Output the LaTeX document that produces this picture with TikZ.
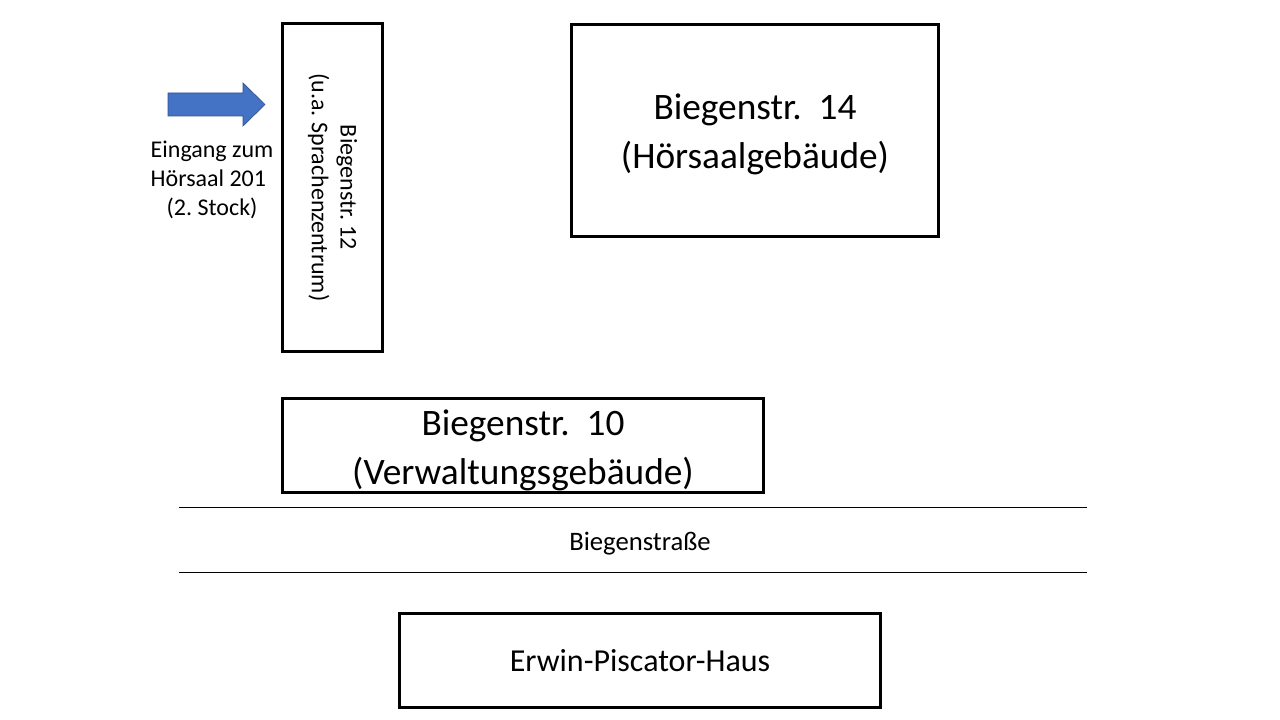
\documentclass[tikz,border=0pt]{standalone}
\usepackage{fontspec}
\setmainfont{Carlito}
\frenchspacing

\tikzset{
  house/.style={draw, line width=2.25pt, inner sep=0pt, align=center},
  bigtext/.style={font=\fontsize{28}{36.75}\selectfont},
  smalltext/.style={font=\fontsize{18}{21.5}\selectfont},
  road/.style={line width=0.75pt}
}

\begin{document}
\begin{tikzpicture}[x=0.75pt, y=-0.75pt]
\useasboundingbox (0,0) rectangle (1280,720);
% Gebaeude
\node [house, minimum width=100*0.75pt, minimum height=328*0.75pt] (b12) at (332.5,187.5) {};
\node [smalltext, rotate=-90, align=center] (b12text) at (b12.center) {Biegenstr. 12\\(u.a. Sprachenzentrum)};
\node [house, minimum width=367*0.75pt, minimum height=212*0.75pt] (b14) at (755,130.5) {};
\node [bigtext, align=center, yshift=-3pt] (b14text) at (b14.center) {Biegenstr.~ 14\\(Hörsaalgebäude)};
\node [house, minimum width=481*0.75pt, minimum height=94*0.75pt] (b10) at (523,445.5) {};
\node [bigtext, align=center, yshift=-3.5pt] (b10text) at (b10.center) {Biegenstr.~ 10\\(Verwaltungsgebäude)};
\node [house, font=\fontsize{24}{29}\selectfont, minimum width=481*0.75pt, minimum height=94*0.75pt] (ep) at (640,660.5) {Erwin-Piscator-Haus};
% Strasse
\coordinate (r1a) at (179,507);
\coordinate (r1b) at (1087,507);
\coordinate (r2a) at (179,572);
\coordinate (r2b) at (1087,572);
\draw [road] (r1a) -- (r1b);
\draw [road] (r2a) -- (r2b);
\node [font=\fontsize{20}{24}\selectfont] (street) at (640,544) {Biegenstraße};
% Eingang
\fill [fill={rgb,255:red,68;green,114;blue,196}, draw={rgb,255:red,47;green,82;blue,143}, line width=0.5pt]
  (168,93) -- (243,93) -- (243,83) -- (265,104.5) -- (243,126) -- (243,116) -- (168,116) -- cycle;
\node [smalltext, align=left, anchor=west] (entrancetext) at (146,180) {Eingang zum\\Hörsaal 201\\\hspace*{12pt}(2. Stock)};
\end{tikzpicture}
\end{document}
